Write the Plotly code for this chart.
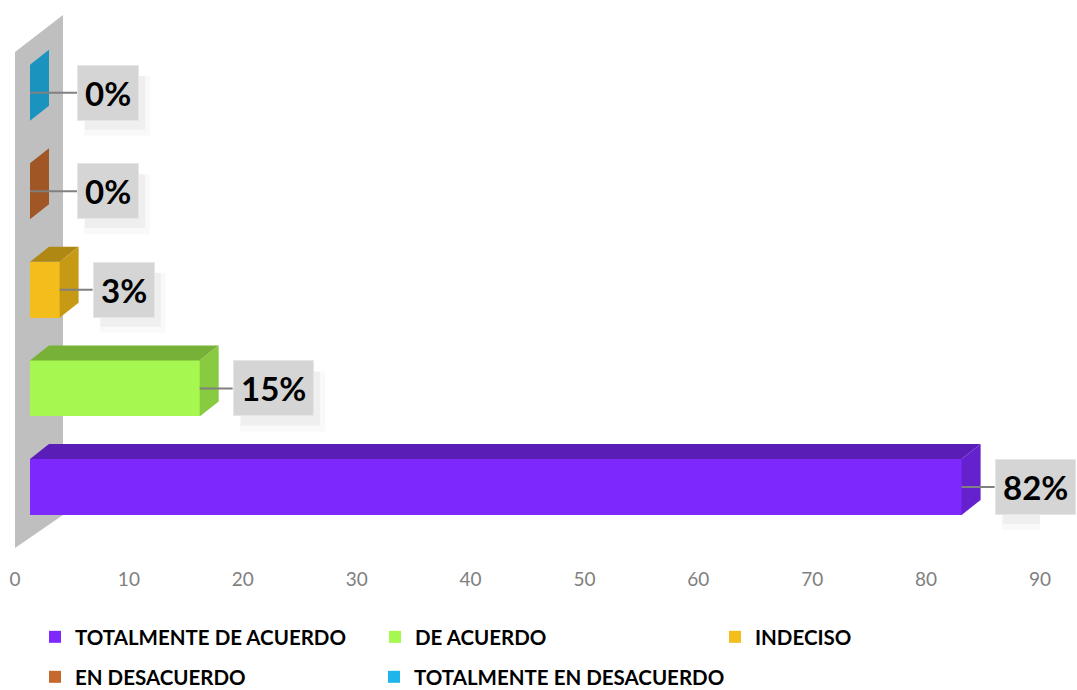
import plotly.graph_objects as go

# ---- data ----
categories = ["TOTALMENTE DE ACUERDO", "DE ACUERDO", "INDECISO",
              "EN DESACUERDO", "TOTALMENTE EN DESACUERDO"]
values = [81.8, 14.9, 2.6, 0, 0]
labels = [f"{round(v)}%" for v in values]
colors = ["#7D29FD", "#A6F74F", "#F3BD1B", "#C5692F", "#20B5EA"]
x_ticks = [0, 10, 20, 30, 40, 50, 60, 70, 80, 90]
legend_of = ["legend", "legend", "legend", "legend2", "legend3"]

# ---- geometry helpers (axis units) ----
W, H = 1077, 690
ML, MR, MT, MB = 15, 37, 15, 142
XMIN, XMAX = 0, 90
YMIN, YMAX = -0.62, 4.79
PW, PH = W - ML - MR, H - MT - MB
XPX = PW / (XMAX - XMIN)
YPX = PH / (YMAX - YMIN)

BASE = 15 / XPX        # front face starts at bar depth
DX = 19 / XPX          # depth shift x
DY = 15 / YPX          # depth shift y
HALF = 28 / YPX        # half height of bar front face
WALL_DX = 48 / XPX
LABEL_FONT = 33


def shade(hex_color, f):
    h = hex_color.lstrip("#")
    r, g, b = (int(h[i:i + 2], 16) for i in (0, 2, 4))
    return "rgb({},{},{})".format(int(r * f), int(g * f), int(b * f))


fig = go.Figure()

for i, (cat, v, col) in enumerate(zip(categories, values, colors)):
    fig.add_trace(go.Bar(
        y=[i], x=[v], base=[BASE], orientation="h", width=2 * HALF,
        name=cat, marker=dict(color=col, line=dict(width=0)),
        legend=legend_of[i],
        hoverinfo="skip",
    ))

shapes = []
# back wall
shapes.append(dict(
    type="path", layer="below", line=dict(width=0), fillcolor="#BFBFBF",
    path="M {x0},{y0} L {x0},{y1} L {x1},{y2} L {x1},{y3} Z".format(
        x0=0, y0=YMIN, y1=YMAX - 37 / YPX, x1=WALL_DX, y2=YMAX, y3=YMIN + 33 / YPX),
))

annotations = []
for i, (v, col, lab) in enumerate(zip(values, colors, labels)):
    x0, x1 = BASE, BASE + v
    yb, yt = i - HALF, i + HALF
    lead = (33 if v > 0 else 47) / XPX
    if v > 0:
        # top face
        shapes.append(dict(
            type="path", line=dict(width=0), fillcolor=shade(col, 0.72),
            path=f"M {x0},{yt} L {x1},{yt} L {x1 + DX},{yt + DY} L {x0 + DX},{yt + DY} Z"))
    # side face
    shapes.append(dict(
        type="path", line=dict(width=0), fillcolor=shade(col, 0.82),
        path=f"M {x1},{yb} L {x1 + DX},{yb + DY} L {x1 + DX},{yt + DY} L {x1},{yt} Z"))
    # leader line
    shapes.append(dict(type="line", x0=x1, x1=x1 + lead, y0=i, y1=i,
                       line=dict(color="#808080", width=2)))
    # soft shadow behind the label box
    lx = x1 + lead
    box_w = 0.58 * LABEL_FONT * (len(lab) - 1) + 0.76 * LABEL_FONT + 16
    for off_x, off_y, grow, a in [(10, 13, 3, 0.025), (8, 10, 0, 0.04)]:
        shapes.append(dict(
            type="rect", line=dict(width=0), fillcolor=f"rgba(0,0,0,{a})",
            x0=lx + (off_x - grow) / XPX, x1=lx + (off_x + box_w + grow) / XPX,
            y0=i - (27 + off_y + grow) / YPX, y1=i + (27 - off_y + grow) / YPX))
    annotations.append(dict(
        x=lx, y=i, xanchor="left", yanchor="middle", showarrow=False,
        text=f"<b>{lab}</b>",
        font=dict(family="Lato", size=LABEL_FONT, color="#000000"),
        bgcolor="#D5D5D5", bordercolor="#E6E6E6", borderwidth=1, borderpad=7))

legend_common = dict(
    orientation="h", xanchor="left", yanchor="middle",
    font=dict(family="Lato", size=20.5, color="#000000", weight="bold"),
    bgcolor="rgba(0,0,0,0)", traceorder="normal",
)
col1_x = (35 - ML) / PW
col2_x = (374 - ML) / PW
row1_y = (H - MB - 637) / PH
row2_y = (H - MB - 677) / PH

fig.update_layout(
    width=W, height=H,
    margin=dict(l=ML, r=MR, t=MT, b=MB, autoexpand=False),
    paper_bgcolor="white", plot_bgcolor="white",
    barmode="overlay", bargap=0,
    xaxis=dict(range=[XMIN, XMAX], tickvals=x_ticks, showgrid=False,
               zeroline=False, showline=False, ticks="outside", ticklen=14,
               tickcolor="rgba(0,0,0,0)",
               tickfont=dict(family="Lato", size=19, color="#7F7F7F")),
    yaxis=dict(range=[YMIN, YMAX], visible=False, fixedrange=True),
    legend=dict(x=col1_x, y=row1_y, entrywidth=295, entrywidthmode="pixels",
                **legend_common),
    legend2=dict(x=col1_x, y=row2_y, **legend_common),
    legend3=dict(x=col2_x, y=row2_y, **legend_common),
    shapes=shapes,
    annotations=annotations,
    showlegend=True,
)

fig.write_html("out.html", config={"displayModeBar": False},
               post_script="document.body.style.margin='0';document.body.style.overflow='hidden';")
